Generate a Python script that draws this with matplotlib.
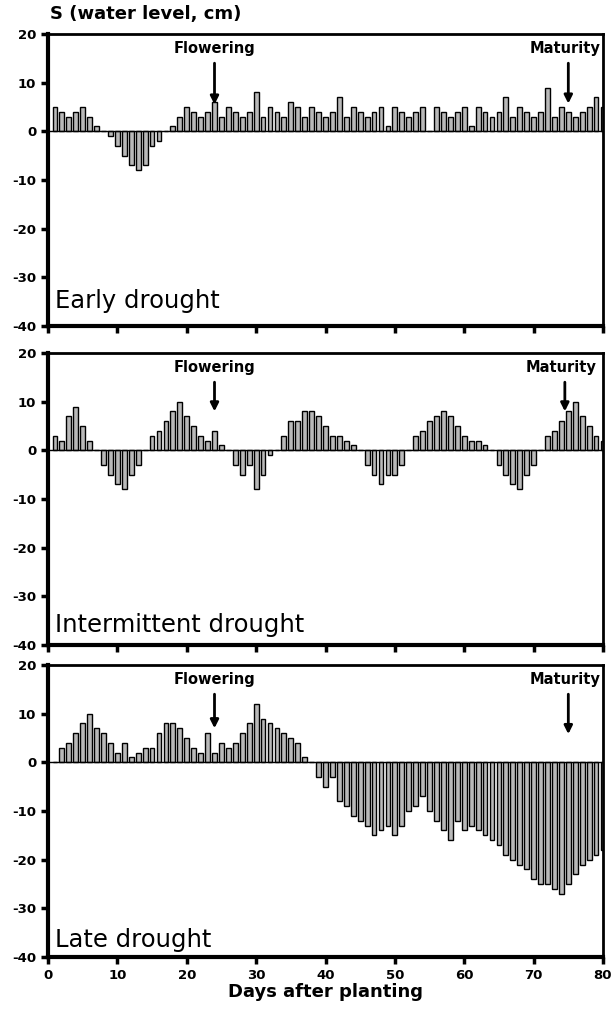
import numpy as np
import matplotlib
matplotlib.use("Agg")
import matplotlib.pyplot as plt

plt.rcParams['axes.unicode_minus'] = False
plt.rcParams['font.family'] = ['DejaVu Sans']

# --- data (water level S, cm, per day after planting) ---
days = np.arange(1, 81)

early = [5, 4, 3, 4, 5, 3, 1, 0, -1, -3,
         -5, -7, -8, -7, -3, -2, 0, 1, 3, 5,
         4, 3, 4, 6, 3, 5, 4, 3, 4, 8,
         3, 5, 4, 3, 6, 5, 3, 5, 4, 3,
         4, 7, 3, 5, 4, 3, 4, 5, 1, 5,
         4, 3, 4, 5, 0, 5, 4, 3, 4, 5,
         1, 5, 4, 3, 4, 7, 3, 5, 4, 3,
         4, 9, 3, 5, 4, 3, 4, 5, 7, 5]

intermittent = [3, 2, 7, 9, 5, 2, 0, -3, -5, -7,
                -8, -5, -3, 0, 3, 4, 6, 8, 10, 7,
                5, 3, 2, 4, 1, 0, -3, -5, -3, -8,
                -5, -1, 0, 3, 6, 6, 8, 8, 7, 5,
                3, 3, 2, 1, 0, -3, -5, -7, -5, -5,
                -3, 0, 3, 4, 6, 7, 8, 7, 5, 3,
                2, 2, 1, 0, -3, -5, -7, -8, -5, -3,
                0, 3, 4, 6, 8, 10, 7, 5, 3, 2]

late = [0, 3, 4, 6, 8, 10, 7, 6, 4, 2,
        4, 1, 2, 3, 3, 6, 8, 8, 7, 5,
        3, 2, 6, 2, 4, 3, 4, 6, 8, 12,
        9, 8, 7, 6, 5, 4, 1, 0, -3, -5,
        -3, -8, -9, -11, -12, -13, -15, -14, -13, -15,
        -13, -10, -9, -7, -10, -12, -14, -16, -12, -14,
        -13, -14, -15, -16, -17, -19, -20, -21, -22, -24,
        -25, -25, -26, -27, -25, -23, -21, -20, -19, -18]

series = [early, intermittent, late]
panel_names = ["Early drought", "Intermittent drought", "Late drought"]
flowering_day = [24, 24, 24]
maturity_day = [75, 74.5, 75]
flowering_tip = [5.5, 8, 7]
maturity_tip = [5.7, 8, 5.8]

y_ticks = [20, 10, 0, -10, -20, -30, -40]
x_ticks = [0, 10, 20, 30, 40, 50, 60, 70, 80]

# --- figure ---
fig = plt.figure(figsize=(6.13, 10.10), dpi=100)
left, width = 48 / 613, 555 / 613
bottoms = [1 - 326 / 1010, 1 - 645 / 1010, 1 - 957 / 1010]
height = 292 / 1010
name_y = [-34.8, -35.8, -36.6]

for i in range(3):
    ax = fig.add_axes([left, bottoms[i], width, height])
    ax.bar(days, series[i], width=0.7, color='#b9b9b9', edgecolor='black',
           linewidth=1.0, zorder=2)
    ax.axhline(0, color='black', linewidth=1.0, zorder=3)
    ax.set_xlim(0, 80)
    ax.set_ylim(-40, 20)
    ax.set_yticks(y_ticks)
    ax.set_xticks(x_ticks)
    ax.tick_params(axis='both', direction='out', length=5, width=2.5,
                   labelsize=9.5)
    for lab in ax.get_yticklabels() + ax.get_xticklabels():
        lab.set_fontweight('bold')
    if i < 2:
        ax.set_xticklabels([])
    for side in ['left', 'bottom']:
        ax.spines[side].set_linewidth(3)
    for side in ['top', 'right']:
        ax.spines[side].set_linewidth(2)

    ax.text(1, name_y[i], panel_names[i], fontsize=17.5, va='center',
            ha='left')

    ax.text(flowering_day[i], 17, "Flowering", fontsize=10.5,
            fontweight='bold', ha='center', va='center')
    ax.annotate('', xy=(flowering_day[i], flowering_tip[i]),
                xytext=(flowering_day[i], 14),
                arrowprops=dict(arrowstyle='-|>', color='black', lw=2,
                                mutation_scale=12, shrinkA=0, shrinkB=0))
    ax.text(maturity_day[i] - 0.5, 17, "Maturity", fontsize=10.5,
            fontweight='bold', ha='center', va='center')
    ax.annotate('', xy=(maturity_day[i], maturity_tip[i]),
                xytext=(maturity_day[i], 14),
                arrowprops=dict(arrowstyle='-|>', color='black', lw=2,
                                mutation_scale=12, shrinkA=0, shrinkB=0))

    if i == 2:
        ax.set_xlabel("Days after planting", fontsize=13, fontweight='bold',
                      labelpad=1)

fig.text(50 / 613, 1 - 14 / 1010, "S (water level, cm)", fontsize=13,
         fontweight='bold', ha='left', va='center')

fig.savefig("out.png", dpi=100)
